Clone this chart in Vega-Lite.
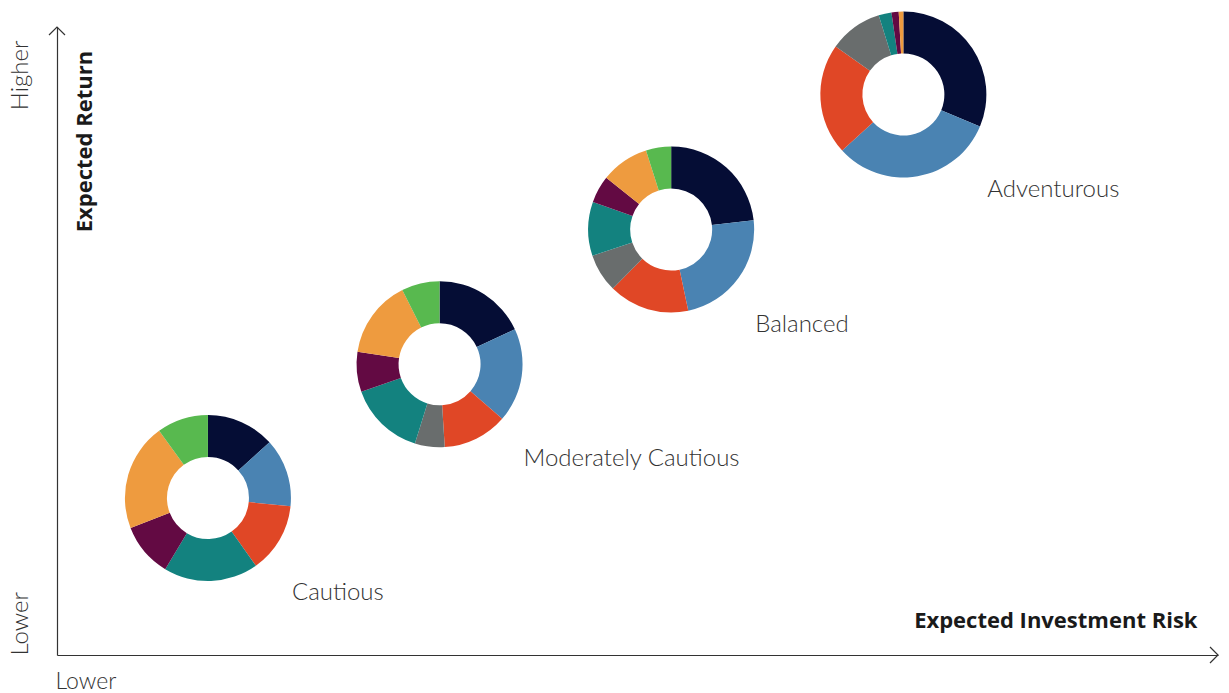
{
  "$schema": "https://vega.github.io/schema/vega-lite/v6.json",
  "width": 1161,
  "height": 628,
  "autosize": {"type": "none"},
  "padding": {"left": 57, "top": 27, "right": 11, "bottom": 38},
  "background": "white",
  "config": {"view": {"stroke": null}},
  "datasets": {
    "profiles": [
      {"profile": "Cautious", "risk": 13.0, "ret": 25.0},
      {"profile": "Moderately Cautious", "risk": 32.95, "ret": 46.3},
      {"profile": "Balanced", "risk": 52.9, "ret": 67.75},
      {"profile": "Adventurous", "risk": 72.9, "ret": 89.25}
    ],
    "allocations": [
      {"profile": "Cautious", "asset": "Asset class 1", "weight": 13.3},
      {"profile": "Cautious", "asset": "Asset class 2", "weight": 13.3},
      {"profile": "Cautious", "asset": "Asset class 3", "weight": 13.6},
      {"profile": "Cautious", "asset": "Asset class 4", "weight": 0},
      {"profile": "Cautious", "asset": "Asset class 5", "weight": 18.4},
      {"profile": "Cautious", "asset": "Asset class 6", "weight": 10.5},
      {"profile": "Cautious", "asset": "Asset class 7", "weight": 20.9},
      {"profile": "Cautious", "asset": "Asset class 8", "weight": 10.0},
      {"profile": "Moderately Cautious", "asset": "Asset class 1", "weight": 18.1},
      {"profile": "Moderately Cautious", "asset": "Asset class 2", "weight": 18.3},
      {"profile": "Moderately Cautious", "asset": "Asset class 3", "weight": 12.6},
      {"profile": "Moderately Cautious", "asset": "Asset class 4", "weight": 5.8},
      {"profile": "Moderately Cautious", "asset": "Asset class 5", "weight": 14.8},
      {"profile": "Moderately Cautious", "asset": "Asset class 6", "weight": 7.8},
      {"profile": "Moderately Cautious", "asset": "Asset class 7", "weight": 15.2},
      {"profile": "Moderately Cautious", "asset": "Asset class 8", "weight": 7.4},
      {"profile": "Balanced", "asset": "Asset class 1", "weight": 23.2},
      {"profile": "Balanced", "asset": "Asset class 2", "weight": 23.5},
      {"profile": "Balanced", "asset": "Asset class 3", "weight": 15.7},
      {"profile": "Balanced", "asset": "Asset class 4", "weight": 7.5},
      {"profile": "Balanced", "asset": "Asset class 5", "weight": 10.5},
      {"profile": "Balanced", "asset": "Asset class 6", "weight": 5.3},
      {"profile": "Balanced", "asset": "Asset class 7", "weight": 9.4},
      {"profile": "Balanced", "asset": "Asset class 8", "weight": 4.9},
      {"profile": "Adventurous", "asset": "Asset class 1", "weight": 31.3},
      {"profile": "Adventurous", "asset": "Asset class 2", "weight": 31.9},
      {"profile": "Adventurous", "asset": "Asset class 3", "weight": 21.6},
      {"profile": "Adventurous", "asset": "Asset class 4", "weight": 10.4},
      {"profile": "Adventurous", "asset": "Asset class 5", "weight": 2.5},
      {"profile": "Adventurous", "asset": "Asset class 6", "weight": 1.4},
      {"profile": "Adventurous", "asset": "Asset class 7", "weight": 0.9},
      {"profile": "Adventurous", "asset": "Asset class 8", "weight": 0}
    ]
  },
  "layer": [
    {
      "data": {"name": "allocations"},
      "transform": [
        {"lookup": "profile", "from": {"data": {"name": "profiles"}, "key": "profile", "fields": ["risk", "ret"]}},
        {"stack": "weight", "groupby": ["profile"], "offset": "normalize", "as": ["t0", "t1"]}
      ],
      "mark": {"type": "arc", "innerRadius": 41, "outerRadius": 83},
      "encoding": {
        "x": {
          "field": "risk", "type": "quantitative",
          "scale": {"domain": [0, 100], "nice": false, "zero": false},
          "axis": {
            "orient": "bottom", "values": [0], "labelExpr": "'Lower'",
            "ticks": false, "tickSize": 0, "grid": false,
            "domainColor": "#333333", "domainWidth": 1.2,
            "labelAlign": "left", "labelBaseline": "alphabetic", "labelPadding": 33, "labelOffset": -2,
            "labelFlush": false, "labelOverlap": false, "labelBound": false,
            "labelFont": "Lato", "labelFontSize": 23, "labelFontWeight": 300, "labelColor": "#333333",
            "title": "Expected Investment Risk",
            "titleFont": "Open Sans", "titleFontSize": 22, "titleFontWeight": "bold", "titleColor": "#1a1a1a",
            "titleAlign": "right", "titleBaseline": "alphabetic", "titleX": 1140, "titleY": -28, "titleAngle": 0
          }
        },
        "y": {
          "field": "ret", "type": "quantitative",
          "scale": {"domain": [0, 100], "nice": false, "zero": false},
          "axis": {
            "orient": "left", "values": [0, 100],
            "labelExpr": "datum.value == 0 ? 'Lower' : 'Higher'",
            "ticks": false, "tickSize": 0, "grid": false,
            "domainColor": "#333333", "domainWidth": 1.2,
            "labelAngle": 270,
            "labelAlign": {"condition": {"test": "datum.value == 0", "value": "left"}, "value": "right"},
            "labelOffset": {"condition": {"test": "datum.value == 0", "value": 0}, "value": 13},
            "labelBaseline": "alphabetic", "labelPadding": 30,
            "labelFlush": false, "labelOverlap": false, "labelBound": false,
            "labelFont": "Lato", "labelFontSize": 24, "labelFontWeight": 300, "labelColor": "#333333",
            "title": "Expected Return",
            "titleFont": "Open Sans", "titleFontSize": 22, "titleFontWeight": "bold", "titleColor": "#1a1a1a",
            "titleAngle": 270, "titleAlign": "center", "titleBaseline": "alphabetic",
            "titleX": 34, "titleY": 114
          }
        },
        "theta": {"field": "t0", "type": "quantitative", "scale": {"domain": [0, 1], "range": [0, 6.283185307179586]}},
        "theta2": {"field": "t1"},
        "color": {
          "field": "asset", "type": "nominal", "legend": null,
          "scale": {
            "domain": ["Asset class 1", "Asset class 2", "Asset class 3", "Asset class 4", "Asset class 5", "Asset class 6", "Asset class 7", "Asset class 8"],
            "range": ["#050d35", "#4a83b2", "#e04726", "#696d6d", "#13827f", "#630a43", "#ee9b3f", "#58b94f"]
          }
        }
      }
    },
    {
      "data": {"name": "profiles"},
      "mark": {"type": "text", "align": "left", "baseline": "alphabetic", "dx": 84, "dy": 102, "font": "Lato", "fontSize": 24, "fontWeight": 300, "color": "#333333"},
      "encoding": {
        "x": {"field": "risk", "type": "quantitative"},
        "y": {"field": "ret", "type": "quantitative"},
        "text": {"field": "profile"}
      }
    },
    {
      "data": {"values": [{"risk": 100, "ret": 0}]},
      "mark": {"type": "point", "shape": "M-1,-1L0,0L-1,1", "size": 256, "filled": false, "color": "#333333", "strokeWidth": 1.2, "opacity": 1},
      "encoding": {
        "x": {"field": "risk", "type": "quantitative"},
        "y": {"field": "ret", "type": "quantitative"}
      }
    },
    {
      "data": {"values": [{"risk": 0, "ret": 100}]},
      "mark": {"type": "point", "shape": "M-1,1L0,0L1,1", "size": 256, "filled": false, "color": "#333333", "strokeWidth": 1.2, "opacity": 1},
      "encoding": {
        "x": {"field": "risk", "type": "quantitative"},
        "y": {"field": "ret", "type": "quantitative"}
      }
    }
  ]
}
